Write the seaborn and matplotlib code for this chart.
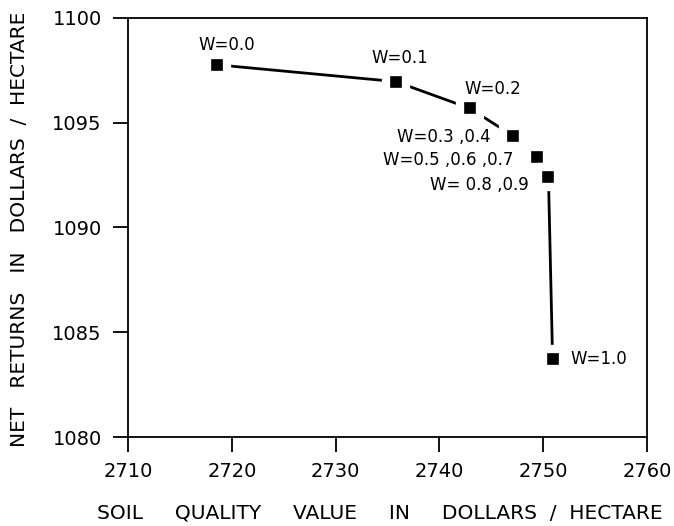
import matplotlib
matplotlib.use("Agg")
import matplotlib.pyplot as plt
import seaborn as sns

# values
soil_value = [2718.6, 2735.8, 2742.9, 2747.1, 2749.4, 2750.5, 2750.9]
net_return = [1097.76, 1096.96, 1095.69, 1094.37, 1093.35, 1092.43, 1083.71]
w_labels = ["W=0.0", "W=0.1", "W=0.2", "W=0.3 ,0.4", "W=0.5 ,0.6 ,0.7",
            "W= 0.8 ,0.9", "W=1.0"]

x_ticks = [2710, 2720, 2730, 2740, 2750, 2760]
y_ticks = [1080, 1085, 1090, 1095, 1100]

# label offsets (points) and alignment for each point
offsets = [(7, 14), (3, 17), (17, 14), (-16, -1), (-17, -2), (-14, -6), (13, 0)]
aligns = ["center", "center", "center", "right", "right", "right", "left"]

sns.set_style("ticks")
plt.rcParams["font.family"] = ["DejaVu Sans"]
plt.rcParams["text.color"] = "black"

fig = plt.figure(figsize=(6.74, 5.26), dpi=100)
ax = fig.add_axes([0.190, 0.169, 0.770, 0.797])

sns.lineplot(x=soil_value, y=net_return, sort=False, color="black",
             linewidth=2.0, ax=ax)
sns.scatterplot(x=soil_value, y=net_return, marker="s", s=215, color="black",
                edgecolor="white", linewidth=6, zorder=3, ax=ax)

for x, y, lab, off, ha in zip(soil_value, net_return, w_labels, offsets, aligns):
    ax.annotate(lab, (x, y), xytext=off, textcoords="offset points",
                ha=ha, va="center", fontsize=12, color="black")

ax.set_xlim(2710, 2760)
ax.set_ylim(1080, 1100)
ax.set_xticks(x_ticks)
ax.set_yticks(y_ticks)
ax.tick_params(axis="both", direction="out", length=11, width=1.3,
               labelsize=14, colors="black")
ax.tick_params(axis="x", pad=7)
ax.tick_params(axis="y", pad=8)
for sp in ax.spines.values():
    sp.set_visible(True)
    sp.set_linewidth(1.3)
    sp.set_color("black")

ax.set_xlabel("SOIL     QUALITY     VALUE     IN     DOLLARS  /  HECTARE",
              fontsize=14.5, color="black")
ax.set_ylabel("NET   RETURNS   IN   DOLLARS  /  HECTARE",
              fontsize=14.5, color="black")
ax.xaxis.set_label_coords(0.4846, -0.158)
ax.yaxis.set_label_coords(-0.191, 0.496)

fig.savefig("out.png", dpi=100)
